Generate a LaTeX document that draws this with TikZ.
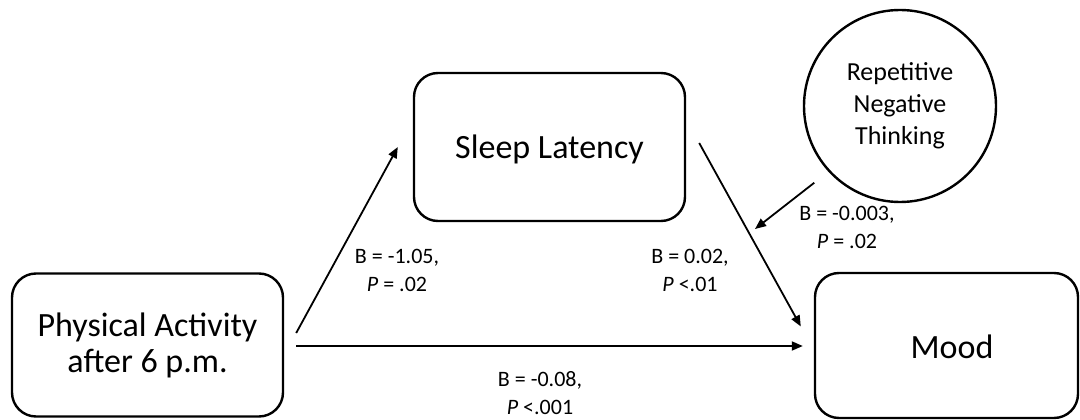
\documentclass[tikz,border=0pt]{standalone}
\usepackage{fontspec}
\setmainfont{Carlito}
\usetikzlibrary{calc,arrows.meta}
\begin{document}
\begin{tikzpicture}[x=1pt,y=-1pt,
  varbox/.style={draw, line width=2.4pt, rounded corners=24pt, align=center,
    inner sep=0pt, font=\fontsize{34}{36}\selectfont},
  latent/.style={draw, circle, line width=2.4pt, align=center, inner sep=0pt,
    minimum size=192pt, font=\fontsize{26}{32}\selectfont},
  path/.style={line width=1.8pt, -{Triangle[length=11pt,width=9pt]}},
  coef/.style={align=center, font=\fontsize{22}{28}\selectfont, inner sep=0pt}
]
\useasboundingbox (0,0) rectangle (1080,420);

% observed variables
\node[varbox, minimum width=271pt, minimum height=143pt] (PA) at (147.5,345)
  {Physical Activity\\after 6 p.m.};
\node[varbox, minimum width=271pt, minimum height=148pt,
  text height=22pt, text depth=0pt] (SL) at (549.5,147) {Sleep Latency};
\node[varbox, minimum width=263pt, minimum height=145pt,
  text height=25pt, text depth=0pt] (MO) at (946.5,345.5) {\hspace*{11pt}Mood};

% moderator
\node[latent] (RNT) at (900,106) {Repetitive\\Negative\\Thinking};

% paths
\draw[path] ($(PA.east)+(12,-12)$) -- ($(SL.west)+(-15,0)$);
\draw[path] ($(PA.east)+(12,1)$) -- ($(MO.west)+(-11,0.5)$);
\draw[path] ($(SL.east)+(13,-4)$) -- ($(MO.west)+(-13,-19)$);
\coordinate (mod) at (755,229);
\draw[path] ($(RNT.south west)+(-17,8)$) -- (mod);

% coefficients
\node[coef] (c1) at (397,270) {B = -1.05,\\\textit{P} = .02};
\node[coef] (c2) at (690,270) {B = 0.02,\\\textit{P} <.01};
\node[coef] (c3) at (847,227) {B = -0.003,\\\textit{P} = .02};
\node[coef] (c4) at (540,393) {B = -0.08,\\\textit{P} <.001};
\end{tikzpicture}
\end{document}
